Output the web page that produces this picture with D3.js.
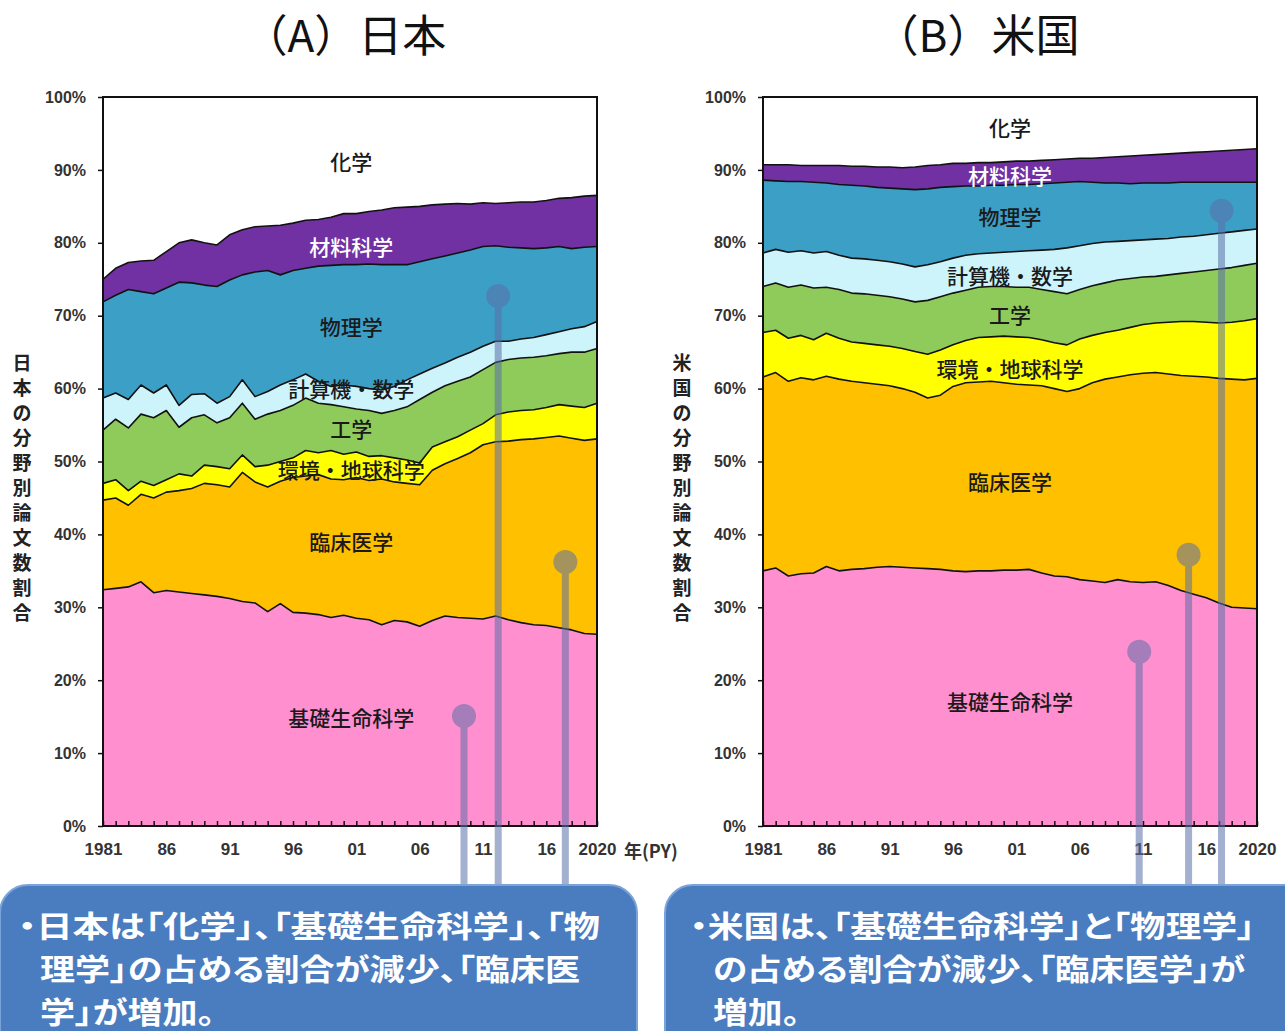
<!DOCTYPE html>
<html>
<head>
<meta charset="utf-8">
<script src="https://cdn.jsdelivr.net/npm/d3@7"></script>
<style>
  body { margin: 0; background: #fff; }
  svg { display: block; }
  .tick text { font-family: "Liberation Sans Narrow", "Liberation Sans", Arial, sans-serif; font-weight: bold; fill: #333; }
  .jp { font-family: "Noto Sans CJK JP", "Noto Sans", sans-serif; }
</style>
</head>
<body>
<svg id="chart" width="1285" height="1031"></svg>
<script>
// years (publication year)
var years = [1981,1982,1983,1984,1985,1986,1987,1988,1989,1990,
             1991,1992,1993,1994,1995,1996,1997,1998,1999,2000,
             2001,2002,2003,2004,2005,2006,2007,2008,2009,2010,
             2011,2012,2013,2014,2015,2016,2017,2018,2019,2020]

// fields, bottom to top
var fields = ['基礎生命科学','臨床医学','環境・地球科学','工学','計算機・数学','物理学','材料科学','化学']
var colors = ['#ff8fcf','#ffc000','#ffff00','#8fcb5a','#cdf3fb','#3c9fc6','#7131a3','#ffffff']

var yTicks = [0,10,20,30,40,50,60,70,80,90,100]
var xLabels = {1981:'1981',1986:'86',1991:'91',1996:'96',2001:'01',2006:'06',2011:'11',2016:'16',2020:'2020'}

// Japan: cumulative share (%) at the upper edge of each field
var jpBasicTop = [32.4,32.6,32.8,33.5,32.0,32.3,32.1,31.9,31.7,31.5,
                  31.2,30.8,30.6,29.4,30.5,29.3,29.2,29.0,28.6,28.9,
                  28.5,28.3,27.6,28.2,28.0,27.4,28.2,28.8,28.6,28.5,
                  28.4,28.8,28.3,27.9,27.6,27.5,27.2,26.9,26.4,26.3]
var jpClinicalTop = [44.7,45.0,44.0,45.5,45.0,45.8,46.0,46.3,47.0,46.8,
                     46.5,48.5,47.2,46.5,47.3,47.8,48.0,48.2,47.6,47.5,
                     47.8,47.4,47.6,47.2,47.0,46.8,48.8,49.7,50.4,51.2,
                     52.3,52.7,52.8,53.0,53.1,53.3,53.5,53.2,52.9,53.1]
var jpEnvTop = [47.0,47.5,46.0,47.3,46.7,47.5,48.3,48.0,49.5,49.3,
                49.0,50.9,49.3,49.5,50.0,50.5,51.5,51.2,51.5,51.0,
                51.3,50.7,50.8,50.5,50.2,49.8,52.0,52.7,53.4,54.3,
                55.2,56.4,56.8,57.0,57.1,57.4,57.8,57.6,57.4,58.0]
var jpEngTop = [54.3,55.8,54.6,56.5,56.0,57.0,54.7,56.0,56.4,55.3,
                56.0,58.0,55.8,56.5,57.0,57.7,58.7,58.0,57.8,57.5,
                57.2,57.0,56.6,57.0,57.5,58.5,59.5,60.4,61.0,61.6,
                62.6,63.6,64.0,64.2,64.3,64.5,64.8,65.0,65.0,65.5]
var jpCompTop = [58.7,59.4,58.5,60.5,59.4,60.5,57.7,59.2,59.3,58.0,
                 58.9,61.2,58.9,59.6,60.5,61.2,62.0,61.0,60.3,60.5,
                 60.3,60.0,59.8,60.3,61.2,62.0,62.8,63.5,64.3,65.0,
                 65.8,66.5,66.5,66.8,67.0,67.4,67.8,68.2,68.5,69.2]
var jpPhysTop = [71.9,72.8,73.6,73.3,73.0,73.8,74.6,74.5,74.2,74.0,
                 74.9,75.6,76.0,76.2,75.6,76.2,76.5,76.8,76.9,77.0,
                 77.0,77.1,77.0,77.0,77.0,77.4,77.8,78.2,78.6,79.0,
                 79.5,79.6,79.4,79.3,79.2,79.3,79.5,79.2,79.4,79.5]
var jpMatTop = [75.0,76.5,77.3,77.5,77.6,78.8,80.0,80.4,80.0,79.7,
                81.1,81.8,82.2,82.3,82.4,82.7,83.1,83.2,83.5,84.0,
                84.0,84.3,84.5,84.8,84.9,85.0,85.2,85.3,85.4,85.3,
                85.5,85.4,85.5,85.6,85.6,85.8,86.1,86.2,86.4,86.5]

// USA: cumulative share (%) at the upper edge of each field
var usBasicTop = [35.0,35.4,34.3,34.6,34.7,35.6,35.0,35.2,35.3,35.5,
                  35.6,35.5,35.4,35.3,35.2,35.0,34.9,35.0,35.0,35.1,
                  35.1,35.2,34.7,34.3,34.2,33.8,33.6,33.4,33.8,33.5,
                  33.4,33.5,33.0,32.3,31.8,31.3,30.6,30.0,29.9,29.8]
var usClinicalTop = [61.6,62.2,61.0,61.5,61.2,61.7,61.3,61.0,60.8,60.6,
                     60.4,60.0,59.5,58.7,59.1,60.3,60.8,60.9,61.0,60.8,
                     60.6,60.5,60.4,60.0,59.6,60.0,60.8,61.3,61.6,61.9,
                     62.1,62.2,62.0,61.8,61.7,61.6,61.4,61.3,61.2,61.4]
var usEnvTop = [67.7,68.0,66.9,67.3,66.7,67.6,66.9,66.4,66.2,66.0,
                65.8,65.5,65.1,64.7,65.3,66.0,66.6,67.0,67.1,67.2,
                67.1,67.0,66.7,66.3,66.0,66.8,67.3,67.7,68.0,68.4,
                68.8,69.0,69.1,69.2,69.2,69.1,69.0,69.1,69.3,69.6]
var usEngTop = [74.0,74.5,73.9,74.2,73.8,73.9,73.6,73.1,73.0,72.8,
                72.6,72.3,71.9,72.1,72.6,73.1,73.5,73.9,74.0,74.0,
                73.9,73.9,73.6,73.3,73.0,73.6,74.1,74.5,74.9,75.1,
                75.3,75.4,75.6,75.8,76.0,76.2,76.4,76.6,76.9,77.2]
var usCompTop = [78.6,79.1,78.7,78.9,78.6,78.8,78.3,77.9,77.8,77.6,
                 77.4,77.1,76.7,77.0,77.4,77.9,78.3,78.5,78.6,78.7,
                 78.8,78.9,79.0,79.1,79.3,79.6,79.9,80.1,80.2,80.3,
                 80.4,80.5,80.6,80.8,80.9,81.1,81.3,81.5,81.7,81.9]
var usPhysTop = [88.6,88.5,88.4,88.4,88.3,88.2,88.0,87.9,87.8,87.6,
                 87.5,87.4,87.3,87.4,87.6,87.7,87.8,87.8,87.9,87.9,
                 88.0,88.0,88.1,88.2,88.3,88.4,88.3,88.2,88.2,88.1,
                 88.2,88.2,88.2,88.3,88.3,88.3,88.3,88.3,88.3,88.3]
var usMatTop = [90.7,90.7,90.7,90.6,90.6,90.6,90.6,90.5,90.5,90.4,
                90.4,90.3,90.4,90.6,90.7,90.9,90.9,91.0,91.0,91.1,
                91.2,91.2,91.3,91.4,91.5,91.6,91.6,91.7,91.8,91.9,
                92.0,92.1,92.2,92.3,92.4,92.5,92.6,92.7,92.8,92.9]

// in-chart field labels: [year, pct]
var jpLabelPos = [[2000.6,15.0],[2000.6,39.1],[2000.6,49.0],[2000.6,54.6],[2000.6,60.1],[2000.6,68.6],[2000.6,79.6],[2000.6,91.2]]
var usLabelPos = [[2000.5,17.1],[2000.5,47.3],[2000.5,62.8],[2000.5,70.2],[2000.5,75.6],[2000.5,83.7],[2000.5,89.3],[2000.5,95.9]]

// callout pins: [year, pct]
var jpPins = [[2009.5,15.1],[2012.2,72.7],[2017.5,36.2]]
var usPins = [[2010.7,23.9],[2014.6,37.2],[2017.2,84.4]]

var W = 494, H = 729
var svg = d3.select('#chart')

function panel(left, title, titleX, yTitle, edges, labelPos, pins, showUnit) {
  var g = svg.append('g').attr('transform', 'translate(' + left + ',97)')
  var x = d3.scaleLinear().domain([1981, 2020]).range([0, W])
  var y = d3.scaleLinear().domain([0, 100]).range([H, 0])

  var lower = [years.map(function() { return 0 })].concat(edges)
  var upper = edges.concat([years.map(function() { return 100 })])

  fields.forEach(function(f, i) {
    var area = d3.area()
      .x(function(d, j) { return x(years[j]) })
      .y0(function(d, j) { return y(lower[i][j]) })
      .y1(function(d, j) { return y(upper[i][j]) })
    g.append('path').datum(years).attr('d', area).attr('fill', colors[i])
  })

  var line = d3.line()
    .x(function(d, j) { return x(years[j]) })
    .y(function(d) { return y(d) })
  edges.forEach(function(e) {
    g.append('path').datum(e).attr('d', line)
      .attr('fill', 'none').attr('stroke', '#111').attr('stroke-width', 1.6)
      .attr('stroke-linejoin', 'round')
  })

  g.append('rect').attr('width', W).attr('height', H)
    .attr('fill', 'none').attr('stroke', '#111').attr('stroke-width', 2)

  var ya = g.append('g').call(d3.axisLeft(y).tickValues(yTicks)
    .tickFormat(function(d) { return d + '%' }).tickSize(5).tickPadding(12))
  ya.select('.domain').remove()
  ya.selectAll('text').attr('font-size', 16)
  ya.selectAll('line').attr('stroke', '#111').attr('stroke-width', 1.5)

  var xa = g.append('g').attr('transform', 'translate(0,' + H + ')')
    .call(d3.axisBottom(x).tickValues(years)
      .tickFormat(function(d) { return xLabels[d] || '' }).tickSize(-5).tickPadding(17))
  xa.select('.domain').remove()
  xa.selectAll('text').attr('font-size', 17)
  xa.selectAll('line').attr('stroke', '#111').attr('stroke-width', 1.5)

  fields.forEach(function(f, i) {
    g.append('text').attr('class', 'jp')
      .attr('x', x(labelPos[i][0])).attr('y', y(labelPos[i][1]))
      .attr('text-anchor', 'middle').attr('dominant-baseline', 'central')
      .attr('font-size', 21).attr('font-weight', 500)
      .attr('fill', i === 6 ? '#fff' : '#1a1a1a')
      .text(f)
  })

  svg.append('text').attr('class', 'jp')
    .attr('x', titleX).attr('y', 52)
    .attr('text-anchor', 'middle').attr('font-size', 44).attr('fill', '#111')
    .text(title)

  svg.selectAll(null).data(yTitle.split('')).enter().append('text')
    .attr('class', 'jp')
    .attr('x', left - 81).attr('y', function(d, i) { return 370 + i * 25 })
    .attr('text-anchor', 'middle').attr('font-size', 19).attr('font-weight', 700)
    .attr('fill', '#222')
    .text(function(d) { return d })

  if (showUnit) {
    svg.append('text').attr('class', 'jp')
      .attr('x', left + W + 27).attr('y', 858)
      .attr('font-size', 18).attr('font-weight', 700).attr('fill', '#333')
      .text('年(PY)')
  }

  return { x: x, y: y, pins: pins, left: left }
}

var pA = panel(103, '（A）日本', 345, '日本の分野別論文数割合',
  [jpBasicTop, jpClinicalTop, jpEnvTop, jpEngTop, jpCompTop, jpPhysTop, jpMatTop], jpLabelPos, jpPins, true)
var pB = panel(763, '（B）米国', 977, '米国の分野別論文数割合',
  [usBasicTop, usClinicalTop, usEnvTop, usEngTop, usCompTop, usPhysTop, usMatTop], usLabelPos, usPins, false)

// callout pins
;[pA, pB].forEach(function(p) {
  var pg = svg.append('g').attr('transform', 'translate(' + p.left + ',97)')
    .attr('opacity', 0.55)
  p.pins.forEach(function(d) {
    pg.append('line').attr('x1', p.x(d[0])).attr('x2', p.x(d[0]))
      .attr('y1', p.y(d[1])).attr('y2', 800)
      .attr('stroke', '#5a70a8').attr('stroke-width', 7)
    pg.append('circle').attr('cx', p.x(d[0])).attr('cy', p.y(d[1])).attr('r', 12)
      .attr('fill', '#5a70a8')
  })
})

// comment boxes: each line [text, x, width]
var notes = [
  { x: 0, w: 637, lines: [['・日本は「化学」、「基礎生命科学」、「物', 18, 582], ['理学」の占める割合が減少、「臨床医', 40, 540], ['学」が増加。', 40, 175]] },
  { x: 665, w: 650, lines: [['・米国は、「基礎生命科学」と「物理学」', 690, 565], ['の占める割合が減少、「臨床医学」が', 713, 532], ['増加。', 713, 87]] }
]
notes.forEach(function(n) {
  svg.append('rect').attr('x', n.x).attr('y', 885).attr('width', n.w).attr('height', 200)
    .attr('rx', 28).attr('fill', '#4a7cc0').attr('stroke', '#7aa3d8').attr('stroke-width', 2)
  n.lines.forEach(function(t, i) {
    svg.append('text').attr('class', 'jp')
      .attr('x', t[1]).attr('y', 937 + i * 43)
      .attr('font-size', 30).attr('font-weight', 700).attr('fill', '#fff')
      .attr('textLength', t[2]).attr('lengthAdjust', 'spacingAndGlyphs')
      .style('font-feature-settings', '"palt"')
      .text(t[0])
  })
})
</script>
</body>
</html>
